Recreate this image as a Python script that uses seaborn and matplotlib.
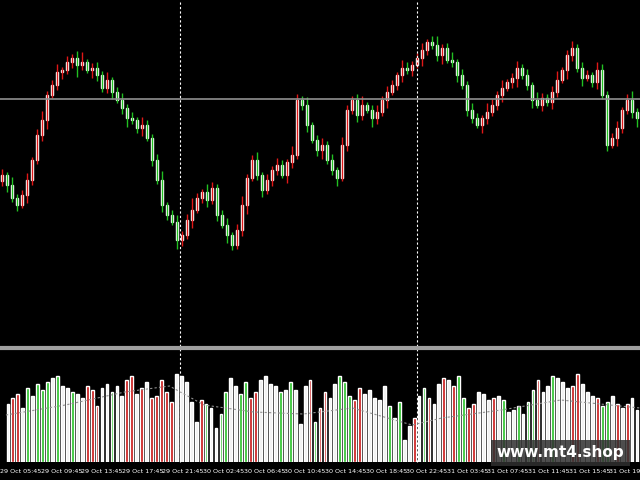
import numpy as np
import matplotlib
matplotlib.use("Agg")
import matplotlib.pyplot as plt
import seaborn as sns

# candle closes (chart units, larger = lower on screen)
closes = [175, 185, 198, 205, 195, 180, 160, 135, 120, 95, 85, 72, 70, 62, 58, 65,
          62, 70, 68, 75, 88, 80, 92, 100, 108, 118, 120, 128, 125, 138, 160, 180,
          205, 215, 222, 240, 235, 220, 210, 198, 192, 200, 188, 215, 225, 235,
          245, 230, 205, 178, 160, 175, 190, 180, 170, 165, 175, 162, 155, 100,
          105, 125, 140, 150, 145, 160, 170, 178, 145, 110, 100, 115, 105, 110,
          118, 112, 100, 92, 85, 75, 68, 70, 65, 58, 50, 42, 45, 55, 48, 60, 62,
          75, 85, 110, 118, 125, 118, 112, 105, 95, 88, 82, 78, 68, 75, 85, 100,
          105, 98, 102, 92, 80, 70, 55, 48, 68, 78, 75, 82, 70, 95, 145, 138,
          128, 110, 100, 112, 118]
hi_ext = [6, 3, 8, 4, 5, 7, 3, 6, 9, 4, 5, 8, 3, 6, 4, 7, 10, 3, 5, 6, 4, 8, 3,
          5, 7, 4, 6, 3, 8, 5, 4, 6, 9, 3, 5, 7, 4, 6, 12, 5, 3, 8, 6, 4, 5, 7,
          3, 6, 9, 4, 5, 8, 3, 6, 4, 7, 5, 3, 9, 6, 4, 8, 3, 5, 7, 4, 6, 3, 8,
          5, 4, 6, 9, 3, 5, 7, 4, 6, 5, 3, 8, 6, 4, 5, 7, 3, 6, 9, 4, 5, 8, 3,
          6, 4, 7, 5, 3, 9, 6, 4, 8, 3, 5, 7, 4, 6, 3, 8, 5, 4, 6, 9, 3, 5, 7,
          4, 6, 5, 3, 8, 6, 4, 5, 7, 3, 6, 9, 4]
lo_ext = [5, 7, 4, 6, 3, 8, 5, 4, 6, 9, 3, 5, 7, 4, 6, 12, 5, 3, 8, 6, 4, 5, 7,
          3, 6, 9, 4, 5, 8, 3, 6, 4, 7, 5, 3, 9, 6, 4, 8, 3, 5, 7, 4, 6, 3, 8,
          5, 4, 6, 9, 3, 5, 7, 4, 6, 5, 3, 8, 6, 4, 5, 7, 3, 6, 9, 4, 5, 8, 3,
          6, 4, 7, 5, 3, 9, 6, 4, 8, 3, 5, 7, 4, 6, 3, 8, 5, 4, 6, 9, 3, 5, 7,
          4, 6, 5, 3, 8, 6, 4, 5, 7, 3, 6, 9, 4, 5, 8, 3, 6, 4, 7, 5, 3, 9, 6,
          4, 8, 3, 5, 7, 4, 6, 3, 8, 5, 4, 6, 9]
# volume bar heights and colours (r=red, g=green, w=white)
volumes = [58, 64, 68, 54, 74, 66, 78, 72, 80, 84, 86, 76, 74, 70, 68, 64, 76,
           72, 56, 74, 78, 70, 76, 66, 82, 86, 68, 74, 80, 64, 66, 82, 70, 60,
           88, 86, 80, 60, 40, 62, 58, 54, 34, 48, 70, 84, 76, 68, 80, 64, 70,
           82, 86, 78, 76, 70, 72, 80, 72, 38, 76, 82, 40, 54, 70, 64, 78, 86,
           80, 66, 62, 74, 68, 72, 64, 62, 76, 56, 44, 60, 22, 36, 44, 66, 74,
           64, 58, 78, 84, 82, 76, 86, 64, 54, 58, 70, 68, 62, 64, 66, 62, 50,
           52, 56, 48, 60, 72, 82, 70, 76, 86, 84, 80, 74, 76, 88, 78, 70, 66,
           64, 56, 60, 66, 58, 54, 58, 64, 52]
vol_colors = list("wrrwgwgggwgwwgwwrrrwwgwwrrwrwrrrrrwwwwwrgwwggwwggrrwwwwgwgwwwr"
                  "grrwwgggrrwwwwwgwgwwrwgrwwrwrggrrwwwrwgwwgwggrwwgwwwrrwwwrggw"
                  "rwrwwgw")
ma_x = [0, 60, 120, 165, 200, 250, 300, 350, 410, 440, 500, 560, 640]
ma_y = [47, 57, 70, 76, 57, 50, 48, 54, 37, 44, 52, 62, 54]
tick_labels = ["29 Oct 05:45", "29 Oct 09:45", "29 Oct 13:45", "29 Oct 17:45",
               "29 Oct 21:45", "30 Oct 02:45", "30 Oct 06:45", "30 Oct 10:45",
               "30 Oct 14:45", "30 Oct 18:45", "30 Oct 22:45", "31 Oct 03:45",
               "31 Oct 07:45", "31 Oct 11:45", "31 Oct 15:45", "31 Oct 19:45"]

n = min(len(closes), len(hi_ext), len(lo_ext), len(volumes), len(vol_colors))
xs = np.arange(n) * 5 + 2
opens = [closes[0] + 6] + closes[:n - 1]
cmap = {"r": "#c81010", "g": "#22c022", "w": "#f0f0f0"}

sns.set_style("dark", {"axes.facecolor": "black", "figure.facecolor": "black"})
fig = plt.figure(figsize=(6.4, 4.8), dpi=100)
ax = fig.add_axes([0, 1 - 345 / 480, 1, 345 / 480])
av = fig.add_axes([0, 18 / 480, 1, 110 / 480])
for a in (ax, av):
    a.set_facecolor("black")
    a.set_xlim(0, 640)
    a.grid(False)
    for s in a.spines.values():
        s.set_visible(False)
    a.set_yticks([])

for i in range(n):
    o, c = opens[i], closes[i]
    col = "#e01818" if c < o else "#22c022"
    top, bot = min(o, c), max(o, c)
    ax.vlines(xs[i], top - hi_ext[i], bot + lo_ext[i], color=col, lw=1)
    ax.bar(xs[i], max(bot - top, 1), bottom=top, width=2.6, color=col)
ax.set_ylim(345, 0)
ax.axhline(99, color="#909090", lw=1.2)
ax.set_xticks([])

av.bar(xs, volumes[:n], width=2.8, color=[cmap[v] for v in vol_colors[:n]])
sns.lineplot(x=ma_x, y=ma_y, ax=av, color="#909090", lw=0.8, ls=(0, (2, 2)))
av.set_ylim(0, 110)
av.set_yticks([])
av.set_ylabel("")

for xv in (180, 417):
    fig.add_artist(plt.Line2D([xv / 640, xv / 640], [18 / 480, 1], color="white",
                              lw=0.8, ls=(0, (2, 2))))
fig.add_artist(plt.Line2D([0, 1], [1 - 348 / 480] * 2, color="#a0a0a0", lw=3))

ticks = [-6 + 41 * k for k in range(len(tick_labels))]
av.set_xticks(ticks)
av.set_xticklabels(tick_labels, ha="left", color="white", fontsize=4.6)
av.tick_params(axis="x", length=3, color="white", pad=2)

fig.text(0.776, 0.047, "www.mt4.shop", color="white", fontsize=11, weight="bold",
         bbox=dict(facecolor="#303030", edgecolor="none", alpha=0.85, pad=4))
fig.savefig("out.png", dpi=100, facecolor="black")
